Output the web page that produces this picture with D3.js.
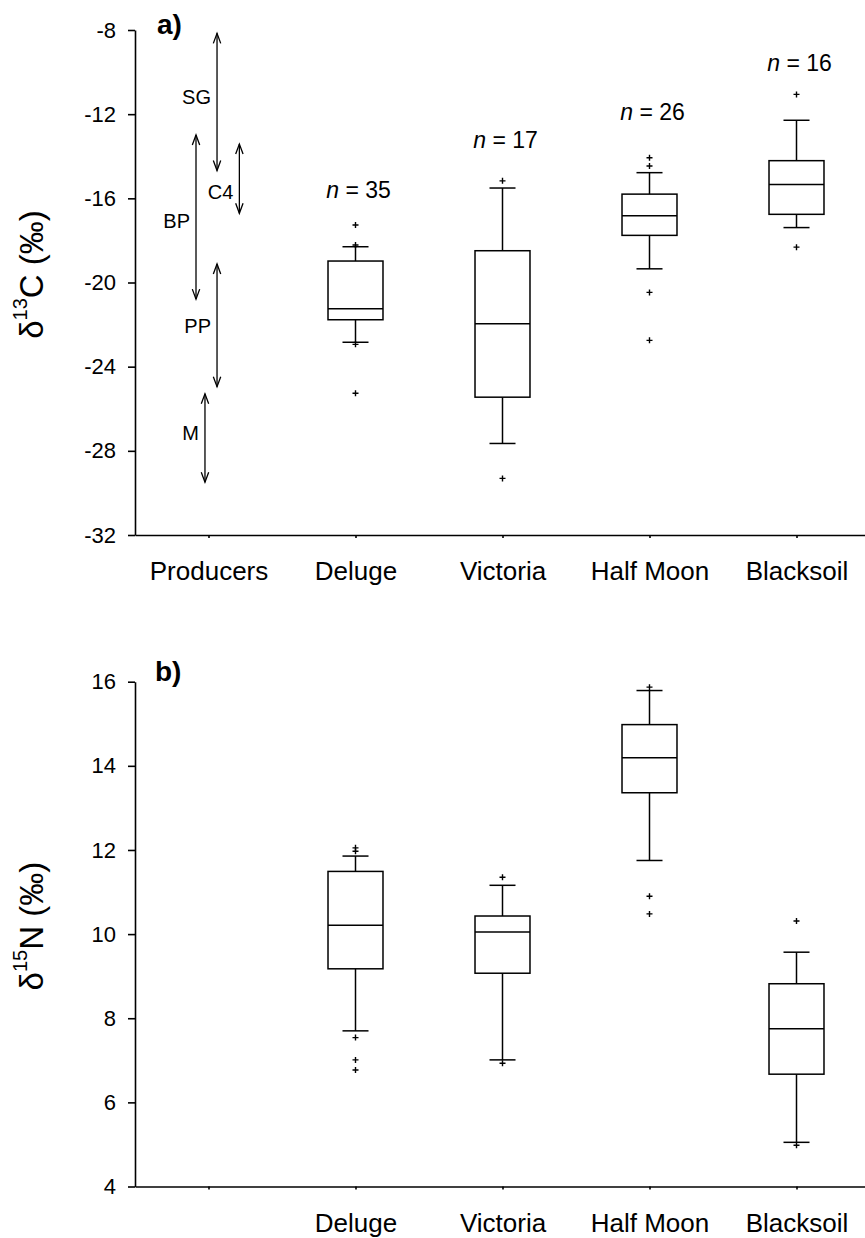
<!DOCTYPE html>
<html>
<head>
<meta charset="utf-8">
<script src="https://cdn.jsdelivr.net/npm/d3@7"></script>
<style>
body { margin: 0; background: #fff; }
svg text { font-family: "Liberation Sans", Arial, sans-serif; fill: #000; }
</style>
</head>
<body>
<svg id="chart" width="865" height="1238"></svg>
<script>
// categories on the x axis (first slot is the producer ranges in panel a)
var categories = ['Producers', 'Deluge', 'Victoria', 'Half Moon', 'Blacksoil'];
var sites = ['Deluge', 'Victoria', 'Half Moon', 'Blacksoil'];
var sampleN = [35, 17, 26, 16];
var nLabelAt = [-15.97, -13.60, -12.29, -9.96];

// d13C boxes
var c13Low    = [-22.84, -27.65, -19.35, -17.39];
var c13Q1     = [-21.77, -25.45, -17.76, -16.76];
var c13Median = [-21.25, -21.96, -16.83, -15.34];
var c13Q3     = [-18.98, -18.49, -15.80, -14.21];
var c13High   = [-18.30, -15.51, -14.78, -12.29];
var c13Outliers = [[-17.27, -18.22, -22.94, -25.26], [-15.17, -29.31], [-14.07, -14.46, -20.47, -22.75], [-11.06, -18.32]];

// producer d13C ranges
var producers = ['SG', 'BP', 'C4', 'PP', 'M'];
var prodMin = [-14.68, -20.79, -16.71, -24.95, -29.49];
var prodMax = [-8.16, -12.99, -13.42, -19.12, -25.29];
var prodOffset = [0.058, -0.085, 0.21, 0.058, -0.024];
var prodLabelAt = [-11.18, -17.07, -15.68, -22.06, -27.16];

// d15N boxes
var n15Low    = [7.70, 7.01, 11.75, 5.05];
var n15Q1     = [9.175, 9.07, 13.36, 6.67];
var n15Median = [10.21, 10.05, 14.19, 7.75];
var n15Q3     = [11.49, 10.43, 14.98, 8.82];
var n15High   = [11.855, 11.16, 15.79, 9.57];
var n15Outliers = [[12.05, 11.97, 7.54, 7.01, 6.77], [11.35, 6.93], [15.87, 10.90, 10.48], [10.31, 4.98]];

var c13Ticks = [-32, -28, -24, -20, -16, -12, -8];
var n15Ticks = [4, 6, 8, 10, 12, 14, 16];

var svg = d3.select('#chart');
var x = d3.scaleLinear().domain([-0.5, 4.5]).range([135, 870]);
var yC = d3.scaleLinear().domain([-32, -8]).range([535, 30]);
var yN = d3.scaleLinear().domain([4, 16]).range([1186.5, 681.7]);

var boxW = x(0.374) - x(0);
var capW = x(0.177) - x(0);

drawAxes = function(y, ticks, labels){
    var gy = svg.append('g')
        .attr('transform', 'translate(' + x.range()[0] + ',0)')
        .call(d3.axisLeft(y).tickValues(ticks).tickFormat(function(d){ return String(d) })
            .tickSizeInner(7).tickSizeOuter(0).tickPadding(12));
    gy.attr('font-size', 22);
    var gx = svg.append('g')
        .attr('transform', 'translate(0,' + y.range()[0] + ')')
        .call(d3.axisBottom(x).tickValues([0, 1, 2, 3, 4]).tickFormat(function(i){ return labels[i] })
            .tickSizeInner(3).tickSizeOuter(0).tickPadding(24));
    gx.attr('font-size', 26);
    svg.selectAll('.domain, .tick line').attr('stroke', '#000').attr('stroke-width', 1.6);
}

drawBoxes = function(y, low, q1, med, q3, high, outliers){
    var g = svg.append('g').attr('stroke', '#000').attr('stroke-width', 1.5).attr('fill', 'none');
    for(i=0; i<sites.length; i++){
        var cx = x(i + 1);
        g.append('line').attr('x1', cx).attr('x2', cx).attr('y1', y(q3[i])).attr('y2', y(high[i]));
        g.append('line').attr('x1', cx).attr('x2', cx).attr('y1', y(q1[i])).attr('y2', y(low[i]));
        g.append('line').attr('x1', cx - capW/2).attr('x2', cx + capW/2).attr('y1', y(high[i])).attr('y2', y(high[i]));
        g.append('line').attr('x1', cx - capW/2).attr('x2', cx + capW/2).attr('y1', y(low[i])).attr('y2', y(low[i]));
        g.append('rect').attr('x', cx - boxW/2).attr('width', boxW)
            .attr('y', y(q3[i])).attr('height', y(q1[i]) - y(q3[i])).attr('fill', '#fff');
        g.append('line').attr('x1', cx - boxW/2).attr('x2', cx + boxW/2).attr('y1', y(med[i])).attr('y2', y(med[i]));
        outliers[i].forEach(function(v){
            g.append('path').attr('stroke-width', 1.4)
                .attr('d', 'M' + (cx - 3) + ',' + y(v) + 'H' + (cx + 3) + 'M' + cx + ',' + (y(v) - 3) + 'V' + (y(v) + 3));
        });
    }
}

// panel a
drawAxes(yC, c13Ticks, categories);
drawBoxes(yC, c13Low, c13Q1, c13Median, c13Q3, c13High, c13Outliers);

var arrows = svg.append('g').attr('stroke', '#000').attr('stroke-width', 1.3).attr('fill', 'none');
for(i=0; i<producers.length; i++){
    var ax = x(prodOffset[i]);
    var yTop = yC(prodMax[i]), yBot = yC(prodMin[i]);
    arrows.append('line').attr('x1', ax).attr('x2', ax).attr('y1', yTop).attr('y2', yBot);
    arrows.append('path').attr('d', 'M' + (ax - 3.7) + ',' + (yTop + 10) + 'L' + ax + ',' + yTop + 'L' + (ax + 3.7) + ',' + (yTop + 10));
    arrows.append('path').attr('d', 'M' + (ax - 3.7) + ',' + (yBot - 10) + 'L' + ax + ',' + yBot + 'L' + (ax + 3.7) + ',' + (yBot - 10));
    svg.append('text').attr('x', ax - 6).attr('y', yC(prodLabelAt[i])).attr('dy', '0.35em')
        .attr('text-anchor', 'end').attr('font-size', 20).text(producers[i]);
}

for(i=0; i<sites.length; i++){
    var t = svg.append('text').attr('x', x(i + 1) + 3).attr('y', yC(nLabelAt[i]))
        .attr('text-anchor', 'middle').attr('font-size', 23);
    t.append('tspan').attr('font-style', 'italic').text('n');
    t.append('tspan').text(' = ' + sampleN[i]);
}

// panel b
drawAxes(yN, n15Ticks, ['', 'Deluge', 'Victoria', 'Half Moon', 'Blacksoil']);
drawBoxes(yN, n15Low, n15Q1, n15Median, n15Q3, n15High, n15Outliers);

// panel letters and axis titles
svg.append('text').attr('x', 157).attr('y', 34).attr('font-size', 28).attr('font-weight', 'bold').text('a)');
svg.append('text').attr('x', 155).attr('y', 681).attr('font-size', 28).attr('font-weight', 'bold').text('b)');

yTitle = function(y, iso, el){
    var cy = (y.range()[0] + y.range()[1]) / 2 - 8;
    var t = svg.append('text').attr('transform', 'translate(43,' + cy + ') rotate(-90)')
        .attr('text-anchor', 'middle').attr('font-size', 33);
    t.append('tspan').text('δ');
    t.append('tspan').attr('font-size', 20).attr('dy', -16).text(iso);
    t.append('tspan').attr('dy', 16).text(el + ' (‰)');
}
yTitle(yC, '13', 'C');
yTitle(yN, '15', 'N');
</script>
</body>
</html>
